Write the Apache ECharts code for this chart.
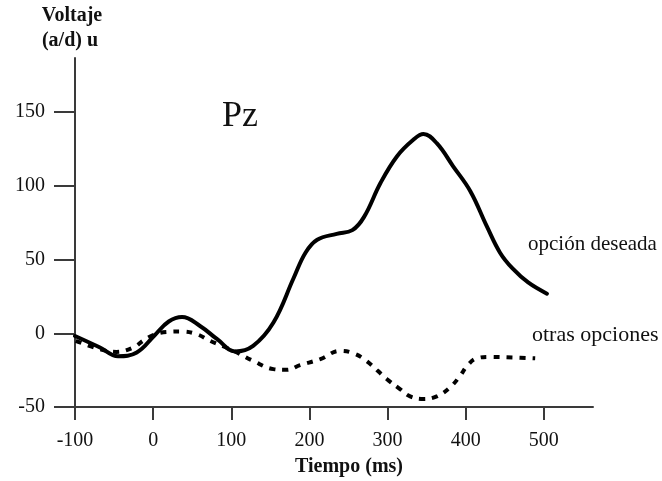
<!DOCTYPE html>
<html>
<head>
<meta charset="utf-8">
<script src="https://cdn.jsdelivr.net/npm/echarts@6/dist/echarts.min.js"></script>
<style>
  html, body { margin: 0; padding: 0; background: #fff; }
  #chart { width: 662px; height: 481px; }
</style>
</head>
<body>
<div id="chart"></div>
<script>
// Tick values
const xTicks = [-100, 0, 100, 200, 300, 400, 500];
const yTicks = [-50, 0, 50, 100, 150];

// "opción deseada" (solid): [time ms, voltage]
const deseadaTime = [-100, -68, -45, -21, 2, 20, 37, 60, 82, 105, 128, 154, 180, 195, 210, 235, 255, 270, 291, 312, 333, 346, 363, 384, 406, 427, 444, 460, 480, 504];
const deseadaVal  = [-1.8, -9.6, -15.5, -13, -1.3, 8, 11, 5, -4, -12.3, -8.5, 7.3, 37.7, 54.7, 63.5, 67.5, 70, 79, 102, 120, 131.3, 135.2, 129, 113.3, 96.4, 72.7, 54.7, 44, 34.5, 26.9];

// "otras opciones" (dashed)
const otrasTime = [-99, -68, -47, -25, -13, 0, 17, 37, 56, 73, 103, 128, 154, 171, 188, 214, 239, 256, 273, 299, 316, 329, 346, 363, 380, 393, 402, 414, 431, 461, 489];
const otrasVal  = [-5.1, -10.8, -12.6, -9.6, -5.1, -1.3, 0.9, 1.2, -0.6, -5.1, -11.9, -18.7, -24.3, -24.8, -21.6, -17.5, -11.9, -13.5, -18.7, -31, -37.8, -42.8, -44.6, -42.8, -36.7, -28.8, -22, -17, -16, -16.4, -17];

const zip = (a, b) => a.map((v, i) => [v, b[i]]);

const serif = '"Liberation Serif", "Times New Roman", serif';
const axisColor = '#3a3a3a';

const chart = echarts.init(document.getElementById('chart'), null, { renderer: 'canvas' });
chart.setOption({
  animation: false,
  backgroundColor: '#ffffff',
  grid: { left: 75, top: 58, right: 69, bottom: 74, containLabel: false },
  xAxis: {
    type: 'value',
    min: -100, max: 563, interval: 100,
    axisLine: { show: true, onZero: false, lineStyle: { color: axisColor, width: 2 } },
    axisTick: { show: true, length: 13, customValues: xTicks, lineStyle: { color: axisColor, width: 2 } },
    axisLabel: { customValues: xTicks, margin: 24, color: '#111', fontFamily: serif, fontSize: 20 },
    splitLine: { show: false }
  },
  yAxis: {
    type: 'value',
    min: -50, max: 186.8, interval: 50,
    axisLine: { show: true, onZero: false, lineStyle: { color: axisColor, width: 2 } },
    axisTick: { show: true, length: 21, customValues: yTicks, lineStyle: { color: axisColor, width: 2 } },
    axisLabel: { customValues: yTicks, margin: 30, color: '#111', fontFamily: serif, fontSize: 20 },
    splitLine: { show: false }
  },
  series: [
    {
      name: 'opción deseada', type: 'line', data: zip(deseadaTime, deseadaVal),
      smooth: 0.4, showSymbol: false, symbol: 'none',
      lineStyle: { color: '#000', width: 4, cap: 'round' }
    },
    {
      name: 'otras opciones', type: 'line', data: zip(otrasTime, otrasVal),
      smooth: 0.4, showSymbol: false, symbol: 'none',
      lineStyle: { color: '#000', width: 4, type: [6, 7] }
    }
  ],
  graphic: [
    { type: 'text', x: 72, y: 16, style: { text: 'Voltaje', font: 'bold 20px ' + serif, fill: '#111', align: 'center', verticalAlign: 'middle' } },
    { type: 'text', x: 70, y: 41, style: { text: '(a/d) u', font: 'bold 20px ' + serif, fill: '#111', align: 'center', verticalAlign: 'middle' } },
    { type: 'text', x: 222, y: 117, style: { text: 'Pz', font: '36px ' + serif, fill: '#111', align: 'left', verticalAlign: 'middle' } },
    { type: 'text', x: 528, y: 244, style: { text: 'opción deseada', font: '21px ' + serif, fill: '#111', align: 'left', verticalAlign: 'middle' } },
    { type: 'text', x: 532, y: 335, style: { text: 'otras opciones', font: '22px ' + serif, fill: '#111', align: 'left', verticalAlign: 'middle' } },
    { type: 'text', x: 349, y: 467, style: { text: 'Tiempo (ms)', font: 'bold 20px ' + serif, fill: '#111', align: 'center', verticalAlign: 'middle' } }
  ]
});
</script>
</body>
</html>
